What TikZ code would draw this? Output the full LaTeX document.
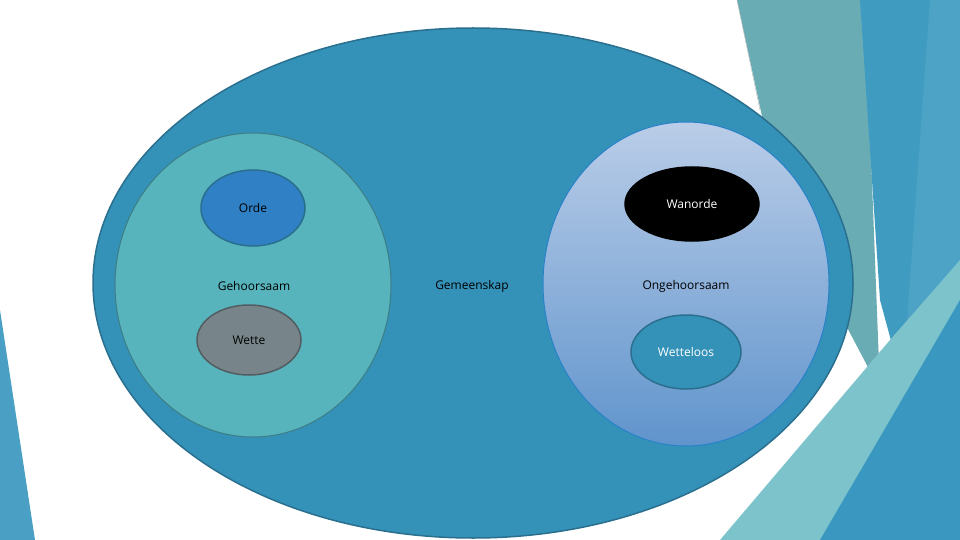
\documentclass[tikz,border=0pt]{standalone}
\usepackage{fontspec}
\setmainfont{Open Sans}
\usetikzlibrary{shapes.geometric}
\definecolor{outerblue}{HTML}{3492B9}
\definecolor{leftteal}{HTML}{57B4BD}
\definecolor{ordeblue}{HTML}{2F80C4}
\definecolor{wettegray}{HTML}{77858A}
\definecolor{edgeblue}{HTML}{2A6F8E}
\begin{document}
\begin{tikzpicture}[x=1pt,y=-1pt,
    blob/.style={ellipse,draw=edgeblue,line width=1.5pt,inner sep=0pt},
    lbl/.style={font=\fontsize{12}{14}\selectfont}]
    \useasboundingbox (0,0) rectangle (960,540);
    % Background panels
    \fill[white] (0,0) rectangle (960,540);
    \fill[color={rgb,255:red,106;green,172;blue,180}] (737,0) -- (865,0) -- (880,390) -- (780,200) -- cycle;
    \fill[color={rgb,255:red,63;green,156;blue,192}] (860,0) -- (960,0) -- (960,540) -- (945,540) -- (880,300) -- cycle;
    \fill[color={rgb,255:red,76;green,163;blue,198}] (930,0) -- (960,0) -- (960,280) -- (900,420) -- cycle;
    \fill[color={rgb,255:red,124;green,195;blue,204}] (720,540) -- (890,340) -- (960,260) -- (960,540) -- cycle;
    \fill[color={rgb,255:red,58;green,151;blue,191}] (820,540) -- (960,300) -- (960,540) -- cycle;
    \fill[color={rgb,255:red,74;green,160;blue,196}] (0,310) -- (35,540) -- (0,540) -- cycle;
    \draw[gray!60,thin] (737,0) -- (760,110);

    % Circles
    \draw[fill=outerblue,draw=edgeblue,line width=1.5pt] (473,283) ellipse [x radius=380,y radius=255];
    \draw[fill=leftteal,draw=leftteal!70!black,line width=1pt] (253,285) ellipse [x radius=138,y radius=152];
    \shade[top color={rgb,255:red,186;green,205;blue,232},bottom color={rgb,255:red,96;green,148;blue,204}] (686,284) ellipse [x radius=143,y radius=162];
    \draw[color={rgb,255:red,40;green,130;blue,200},line width=1pt] (686,284) ellipse [x radius=143,y radius=162];

    % Labels
    \node[blob,fill=ordeblue,minimum width=104pt,minimum height=76pt,lbl] (orde) at (253,208) {Orde};
    \node[blob,fill=wettegray,draw=wettegray!70!black,minimum width=104pt,minimum height=70pt,lbl] (wette) at (249,340) {};
    \node[lbl] (wettetxt) at (249,340) {Wette};
    \node[blob,fill=black,draw=black,minimum width=134pt,minimum height=74pt,lbl,text=white] (wanorde) at (692,204) {Wanorde};
    \node[blob,fill=outerblue,minimum width=110pt,minimum height=74pt,lbl,text=white] (wetteloos) at (686,352) {Wetteloos};
    \node[lbl] (gehoor) at (254,286) {Gehoorsaam};
    \node[lbl] (gemeen) at (472,286) {Gemeenskap};
    \node[lbl] (ongehoor) at (686,286) {Ongehoorsaam};
\end{tikzpicture}
\end{document}
